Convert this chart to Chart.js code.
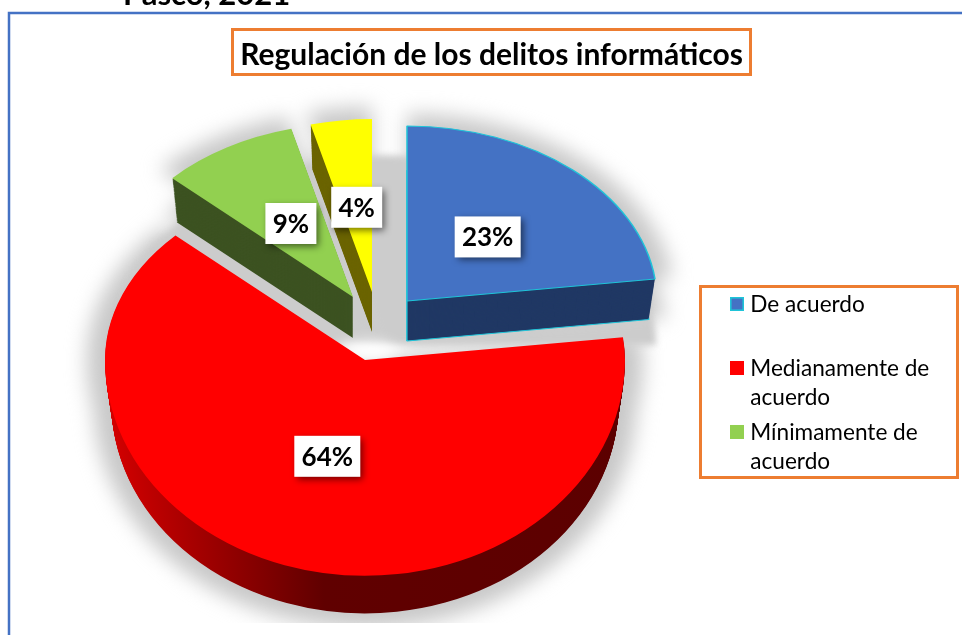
<!DOCTYPE html>
<html lang="es">
<head>
<meta charset="utf-8">
<title>Regulación de los delitos informáticos</title>
<script src="https://cdn.jsdelivr.net/npm/chart.js@4/dist/chart.umd.min.js"></script>
<style>html,body{margin:0;padding:0;background:#fff;overflow:hidden}canvas{display:block}</style>
</head>
<body>
<canvas id="c" width="962" height="635"></canvas>
<script>
const categories = ['De acuerdo', 'Medianamente de acuerdo', 'Mínimamente de acuerdo', 'En desacuerdo'];
const values = [23, 64, 9, 4];
const legendLines = [['De acuerdo', ''], ['Medianamente de', 'acuerdo'], ['Mínimamente de', 'acuerdo']];
const faceColors = ['#4472c4', '#ff0000', '#92d050', '#ffff00'];
const sideColors = ['#203864', null, '#3c5221', '#6b6400'];
const titleText = 'Regulación de los delitos informáticos';
const clippedHeading = 'Pasco, 2021';

/* 3-D pose of each exploded slice: apex on the page, radius, depth */
const poses = [
  {ax: 407, ay: 301, r: 250, depth: 40, border: '#1fc4d8'},
  {ax: 365, ay: 360, r: 260, depth: 43, border: null},
  {ax: 353, ay: 297, r: 248, depth: 41, border: null},
  {ax: 372, ay: 292, r: 247, depth: 40, border: null}
];
const upperRatio = 0.7, lowerRatio = 0.83, sideShrink = 0.975, labelRadius = 122;
const ORANGE = '#ed7d31', FRAME = '#4472c4';

function drawPosed(ctx, arc, apexX, apexY, radius, opts) {
  const saved = arc.options;
  arc.options = Object.assign({}, saved, opts);
  const k = radius / arc.outerRadius;
  const splitY = Math.round(apexY);
  [[0, splitY, upperRatio], [splitY, 635 - splitY, lowerRatio]].forEach(([top, h, ratio], i) => {
    if (i === 1 && opts.upperOnly) return;
    ctx.save();
    ctx.beginPath();
    ctx.rect(0, top, 962, h);
    ctx.clip();
    ctx.translate(apexX, splitY);
    ctx.scale(k, k * ratio);
    ctx.translate(-arc.x, -arc.y);
    arc.draw(ctx);
    ctx.restore();
  });
  arc.options = saved;
}

const flat = {borderWidth: 0, offset: 0, spacing: 0};

const scenePlugin = {
  id: 'scene',
  afterLayout(chart) {
    const t = chart.titleBlock;
    t.left = 232; t.right = 751; t.top = 37; t.bottom = 75;
    const l = chart.legend;
    l.left = 724; l.right = 958; l.top = 287; l.bottom = 635;
  },
  beforeDraw(chart) {
    const ctx = chart.ctx;
    ctx.save();
    ctx.fillStyle = '#fff';
    ctx.fillRect(0, 0, 962, 635);
    ctx.strokeStyle = FRAME;
    ctx.lineWidth = 2.5;
    ctx.beginPath();
    ctx.moveTo(9, 635); ctx.lineTo(9, 13); ctx.lineTo(962, 13);
    ctx.stroke();
    ctx.fillStyle = '#000';
    ctx.font = 'bold 31px Lato';
    ctx.textBaseline = 'alphabetic';
    ctx.textAlign = 'left';
    ctx.fillText(clippedHeading, 123, 5);
    ctx.strokeStyle = ORANGE;
    ctx.lineWidth = 3;
    ctx.strokeRect(232.5, 29.5, 518, 45);
    ctx.strokeRect(700.5, 286.5, 257, 191);
    ctx.restore();
  },
  beforeDatasetsDraw(chart) {
    const ctx = chart.ctx;
    const arcs = chart.getDatasetMeta(0).data;

    /* soft shadow behind the pie */
    const off = document.createElement('canvas');
    off.width = 962; off.height = 635;
    const octx = off.getContext('2d');
    arcs.forEach((arc, i) => {
      const p = poses[i];
      const o = Object.assign({}, flat, {backgroundColor: '#c8c8c8'});
      drawPosed(octx, arc, p.ax, p.ay, p.r * 1.07, o);
      drawPosed(octx, arc, p.ax, p.ay + p.depth, p.r * 1.07 * sideShrink, o);
    });
    ctx.save();
    ctx.beginPath(); ctx.rect(0, 0, 962, 623); ctx.clip();
    ctx.filter = 'blur(10px)';
    ctx.drawImage(off, 0, 0);
    ctx.restore();

    /* flat grey plate seen through the gaps between slices */
    const off2 = document.createElement('canvas');
    off2.width = 962; off2.height = 635;
    const o2 = off2.getContext('2d');
    arcs.forEach(arc => drawPosed(o2, arc, 385, 345, 271,
      Object.assign({}, flat, {backgroundColor: '#cccccc', upperOnly: true})));
    ctx.save();
    ctx.filter = 'blur(3px)';
    ctx.drawImage(off2, 0, 0);
    ctx.filter = 'blur(7px)';
    ctx.fillStyle = '#fff';
    ctx.beginPath(); ctx.ellipse(366, 351, 30, 9, 0, 0, Math.PI * 2); ctx.fill();
    ctx.restore();

    /* extruded sides, then top faces */
    const order = [2, 3, 0, 1];
    order.forEach(i => {
      const arc = arcs[i], p = poses[i];
      let side = sideColors[i];
      if (!side) {
        const g = ctx.createLinearGradient(arc.x - arc.outerRadius, 0, arc.x + arc.outerRadius, 0);
        g.addColorStop(0, '#d40000');
        g.addColorStop(0.42, '#600000');
        g.addColorStop(1, '#5c0000');
        side = g;
      }
      for (let d = p.depth; d >= 1; d--) {
        const sc = 1 - (1 - sideShrink) * d / p.depth;
        const o = Object.assign({}, flat, {backgroundColor: side});
        if (d === p.depth && p.border) { o.borderWidth = 1.8; o.borderColor = p.border; }
        drawPosed(ctx, arc, p.ax, p.ay + d, p.r * sc, o);
      }
      if (p.border) {
        ctx.save();
        ctx.strokeStyle = p.border; ctx.lineWidth = 1.2;
        ctx.beginPath();
        ctx.moveTo(p.ax, p.ay); ctx.lineTo(p.ax, p.ay + p.depth);
        ctx.stroke();
        ctx.restore();
      }
      const top = Object.assign({}, flat, {backgroundColor: faceColors[i]});
      if (p.border) { top.borderWidth = 1.8; top.borderColor = p.border; }
      drawPosed(ctx, arc, p.ax, p.ay, p.r, top);
    });

    /* value labels */
    arcs.forEach((arc, i) => {
      const p = poses[i];
      const mid = (arc.startAngle + arc.endAngle) / 2 + Math.PI / 2;
      const s = Math.sin(mid), c = Math.cos(mid);
      const x = p.ax + labelRadius * s;
      const y = p.ay - labelRadius * c * (c > 0 ? upperRatio : lowerRatio);
      const text = values[i] + '%';
      ctx.save();
      ctx.font = 'bold 26px Lato';
      const w = Math.round(ctx.measureText(text).width) + 15;
      const h = 41;
      ctx.shadowColor = 'rgba(0,0,0,0.55)';
      ctx.shadowBlur = 7;
      ctx.shadowOffsetX = 3;
      ctx.shadowOffsetY = 3;
      ctx.fillStyle = '#fff';
      ctx.fillRect(x - w / 2, y - h / 2, w, h);
      ctx.shadowColor = 'transparent';
      ctx.fillStyle = '#000';
      ctx.textAlign = 'center';
      ctx.textBaseline = 'middle';
      ctx.fillText(text, x, y + 1);
      ctx.restore();
    });
    return false;
  },
  afterDraw(chart) {
    /* legend swatches: wider than the library's text gap allows */
    const ctx = chart.ctx;
    const l = chart.legend;
    const lh = l.options.labels.font.size * l.options.labels.font.lineHeight;
    let y = 297;
    legendLines.forEach((lines, i) => {
      ctx.save();
      ctx.fillStyle = faceColors[i];
      ctx.fillRect(730, y, 14, 14);
      if (poses[i].border) {
        ctx.strokeStyle = poses[i].border;
        ctx.lineWidth = 1.6;
        ctx.strokeRect(730.8, y + 0.8, 12.4, 12.4);
      }
      ctx.restore();
      y += lines.length * lh + l.options.labels.padding;
    });
  }
};

new Chart(document.getElementById('c'), {
  type: 'pie',
  data: {
    labels: categories,
    datasets: [{
      data: values,
      backgroundColor: faceColors,
      borderWidth: 0
    }]
  },
  plugins: [scenePlugin],
  options: {
    responsive: false,
    animation: false,
    events: [],
    layout: {padding: 0},
    plugins: {
      tooltip: {enabled: false},
      title: {
        display: true,
        text: titleText,
        color: '#000',
        font: {family: 'Lato', size: 30, weight: 'bold', lineHeight: 1.2},
        padding: 0
      },
      legend: {
        display: true,
        position: 'chartArea',
        align: 'start',
        labels: {
          color: '#000',
          font: {family: 'Lato', size: 22.6, lineHeight: 1.283},
          boxWidth: 9,
          boxHeight: 9,
          padding: 6,
          generateLabels() {
            return legendLines.map((lines, i) => ({
              text: lines,
              fillStyle: faceColors[i],
              strokeStyle: faceColors[i],
              lineWidth: 0,
              hidden: false,
              index: i
            }));
          }
        }
      }
    }
  }
});
</script>
</body>
</html>
